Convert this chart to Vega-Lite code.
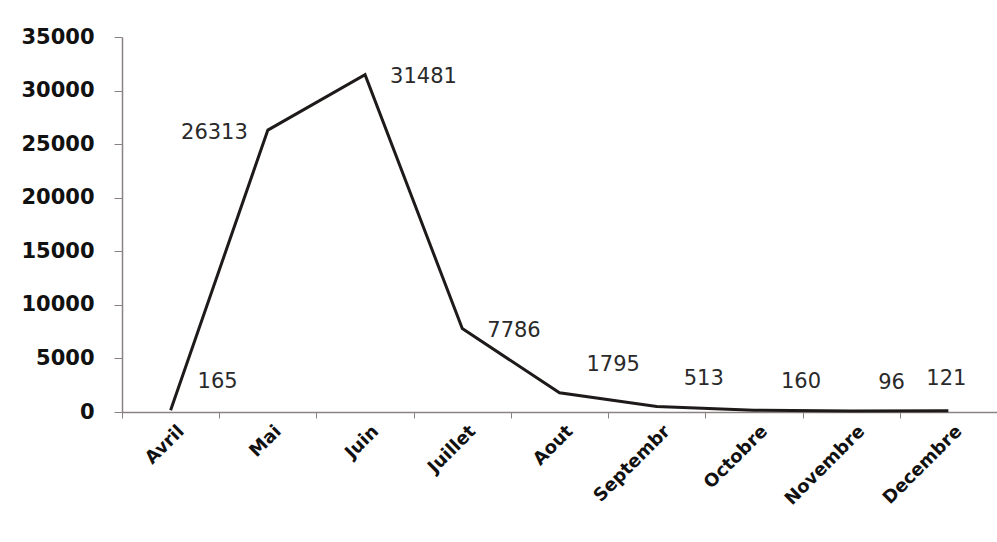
{
  "$schema": "https://vega.github.io/schema/vega-lite/v6.json",
  "autosize": "none",
  "padding": {"left": 122, "top": 37, "right": 0, "bottom": 130},
  "width": 875,
  "height": 375,
  "background": "white",
  "config": {"view": {"stroke": null}},
  "data": {"values": [
    {"mois": "Avril", "valeur": 165},
    {"mois": "Mai", "valeur": 26313},
    {"mois": "Juin", "valeur": 31481},
    {"mois": "Juillet", "valeur": 7786},
    {"mois": "Aout", "valeur": 1795},
    {"mois": "Septembr", "valeur": 513},
    {"mois": "Octobre", "valeur": 160},
    {"mois": "Novembre", "valeur": 96},
    {"mois": "Decembre", "valeur": 121}
  ]},
  "encoding": {
    "x": {"field": "mois", "type": "nominal", "sort": null, "bandPosition": 0.5,
      "scale": {"type": "band", "paddingInner": 0, "paddingOuter": 0},
      "axis": {"title": null, "labelAngle": -45, "labelAlign": "right", "labelBaseline": "top",
        "labelFont": "DejaVu Sans", "labelFontWeight": "bold", "labelFontSize": 18, "labelColor": "#111",
        "labelPadding": 4, "labelOffset": 4,
        "tickBand": "extent", "domainColor": "#8a8282", "tickColor": "#8a8282", "tickSize": 6, "domainWidth": 1.5}},
    "y": {"field": "valeur", "type": "quantitative",
      "scale": {"domain": [0, 35000], "nice": false},
      "axis": {"title": null, "values": [0, 5000, 10000, 15000, 20000, 25000, 30000, 35000], "format": "d",
        "grid": false, "labelFont": "DejaVu Sans", "labelFontWeight": "bold", "labelFontSize": 21, "labelColor": "#111",
        "labelPadding": 20, "domainColor": "#8a8282", "tickColor": "#8a8282", "tickSize": 8, "domainWidth": 1.5}}
  },
  "layer": [
    {"mark": {"type": "line", "color": "#1e1a1a", "strokeWidth": 3}},
    {"transform": [{"filter": "indexof(['Avril','Aout','Septembr','Octobre','Novembre'], datum.mois) >= 0"}],
      "mark": {"type": "text", "align": "left", "baseline": "middle", "dx": 27, "dy": -28, "font": "DejaVu Sans", "fontSize": 21, "color": "#2a2a2a"},
      "encoding": {"text": {"field": "valeur", "type": "quantitative", "format": "d"}}},
    {"transform": [{"filter": "datum.mois === 'Juin' || datum.mois === 'Juillet'"}],
      "mark": {"type": "text", "align": "left", "baseline": "middle", "dx": 25, "dy": 2, "font": "DejaVu Sans", "fontSize": 21, "color": "#2a2a2a"},
      "encoding": {"text": {"field": "valeur", "type": "quantitative", "format": "d"}}},
    {"transform": [{"filter": "datum.mois === 'Mai'"}],
      "mark": {"type": "text", "align": "right", "baseline": "middle", "dx": -20, "dy": 3, "font": "DejaVu Sans", "fontSize": 21, "color": "#2a2a2a"},
      "encoding": {"text": {"field": "valeur", "type": "quantitative", "format": "d"}}},
    {"transform": [{"filter": "datum.mois === 'Decembre'"}],
      "mark": {"type": "text", "align": "center", "baseline": "middle", "dx": -2, "dy": -32, "font": "DejaVu Sans", "fontSize": 21, "color": "#2a2a2a"},
      "encoding": {"text": {"field": "valeur", "type": "quantitative", "format": "d"}}}
  ]
}
